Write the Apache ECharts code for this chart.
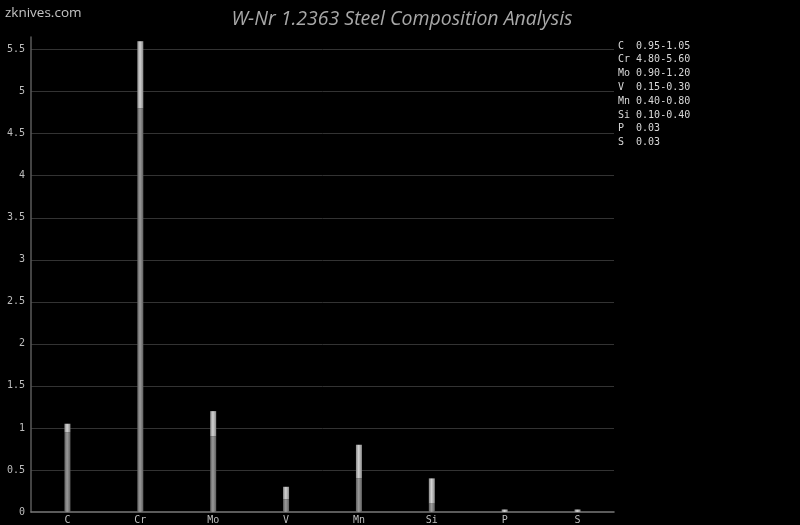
<!DOCTYPE html>
<html>
<head>
<meta charset="utf-8">
<script src="https://cdn.jsdelivr.net/npm/echarts@6/dist/echarts.min.js"></script>
<style>html,body{margin:0;padding:0;background:#000;}#c{width:800px;height:525px;}</style>
</head>
<body>
<div id="c"></div>
<script>
var elements = ['C', 'Cr', 'Mo', 'V', 'Mn', 'Si', 'P', 'S'];
var minValues = [0.95, 4.80, 0.90, 0.15, 0.40, 0.10, 0, 0];
var maxValues = [1.05, 5.60, 1.20, 0.30, 0.80, 0.40, 0.03, 0.03];
var rangeLabels = ['0.95-1.05', '4.80-5.60', '0.90-1.20', '0.15-0.30', '0.40-0.80', '0.10-0.40', '0.03', '0.03'];
var yTicks = [0, 0.5, 1, 1.5, 2, 2.5, 3, 3.5, 4, 4.5, 5, 5.5];

var rangeValues = maxValues.map(function (v, i) { return +(v - minValues[i]).toFixed(2); });

function grad(edge, mid) {
  return new echarts.graphic.LinearGradient(0, 0, 1, 0, [
    { offset: 0, color: edge },
    { offset: 0.45, color: mid },
    { offset: 1, color: edge }
  ]);
}

var mono = 'DejaVu Sans Mono';
var legendGraphics = elements.map(function (el, i) {
  var pad = el.length < 2 ? el + ' ' : el;
  return {
    type: 'text',
    left: 618,
    top: 41 + i * 13.8,
    style: { text: pad + ' ' + rangeLabels[i], fill: '#d8d8d8', font: '10px "' + mono + '"' }
  };
});
legendGraphics.push({
  type: 'text', left: 5, top: 6,
  style: { text: 'zknives.com', fill: '#c4c4c4', font: '13.5px "Open Sans"' }
});

var chart = echarts.init(document.getElementById('c'), null, { renderer: 'canvas' });
chart.setOption({
  backgroundColor: '#000',
  animation: false,
  title: {
    text: 'W-Nr 1.2363 Steel Composition Analysis',
    left: 397, top: 4, textAlign: 'center',
    textStyle: { color: '#a8a8a8', fontSize: 19.5, fontStyle: 'italic', fontWeight: 'normal', fontFamily: 'Open Sans' }
  },
  grid: { left: 31, right: 186, top: 37, bottom: 13, containLabel: false },
  xAxis: {
    type: 'category',
    data: elements,
    boundaryGap: true,
    axisLine: { lineStyle: { color: '#7a7a7a', width: 1.5 } },
    axisTick: { show: false },
    axisLabel: { color: '#bdbdbd', fontSize: 10, fontFamily: mono, margin: 3 }
  },
  yAxis: {
    type: 'value',
    min: 0, max: 5.65, interval: 0.5,
    axisLine: { show: true, lineStyle: { color: '#5a5a5a', width: 1.5 } },
    axisTick: { show: false },
    axisLabel: {
      color: '#bdbdbd', fontSize: 10, fontFamily: mono, margin: 6,
      showMaxLabel: false,
      formatter: function (v) { return yTicks.indexOf(+v.toFixed(2)) >= 0 ? String(+v.toFixed(2)) : ''; }
    },
    splitLine: { show: true, showMinLine: false, showMaxLine: false, lineStyle: { color: '#333' } }
  },
  series: [
    {
      type: 'bar', stack: 'a', data: minValues, barWidth: 6,
      itemStyle: { color: grad('#606060', '#9a9a9a') }
    },
    {
      type: 'bar', stack: 'a', data: rangeValues, barWidth: 6,
      itemStyle: { color: grad('#8a8a8a', '#d2d2d2') }
    }
  ],
  graphic: legendGraphics
});
</script>
</body>
</html>
